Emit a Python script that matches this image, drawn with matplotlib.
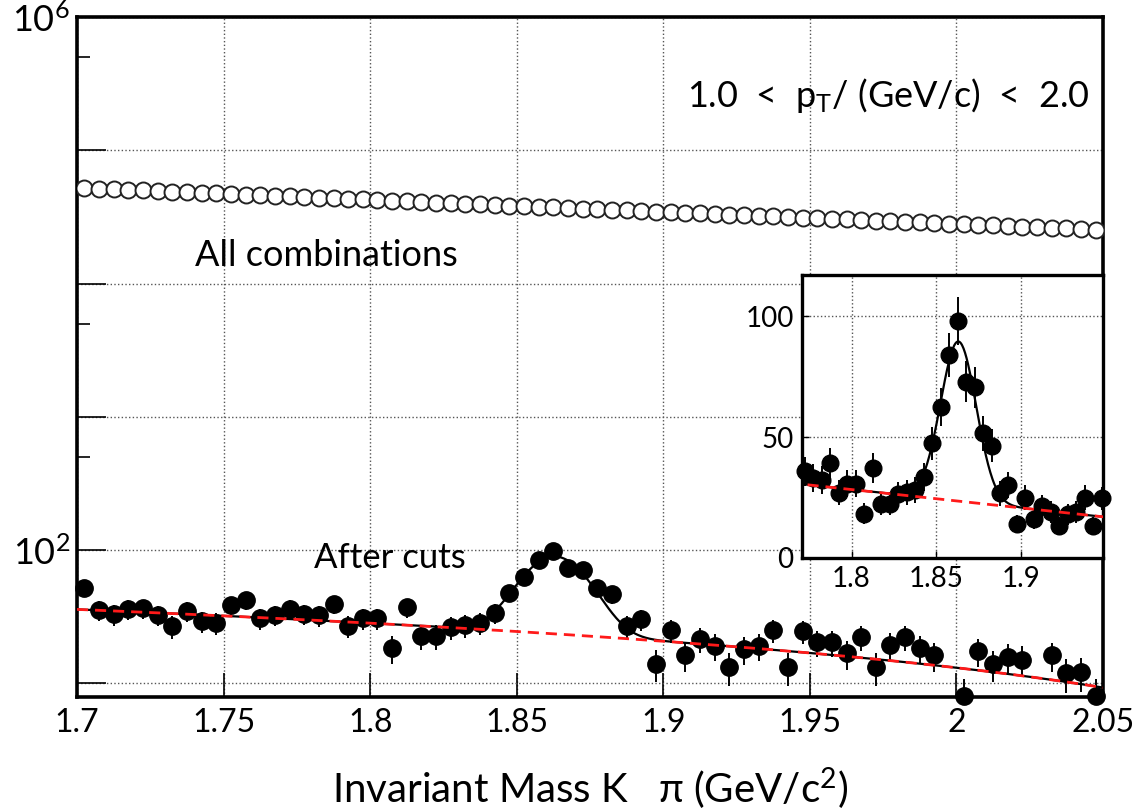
import numpy as np
import matplotlib
matplotlib.use('Agg')
import matplotlib.pyplot as plt
from matplotlib.ticker import LogLocator, FixedLocator, NullFormatter, FuncFormatter

plt.rcParams['font.family'] = ['Lato', 'DejaVu Sans']
plt.rcParams['mathtext.fontset'] = 'custom'
plt.rcParams['mathtext.rm'] = 'Lato'
plt.rcParams['mathtext.it'] = 'Lato:italic'

# 5 MeV bins from 1.70 to 2.05 GeV/c^2
bin_lo = 1.70
bin_width = 0.005
n_bins = 70

# all K pi combinations (open circles)
all_comb = [52100, 51560, 51020, 50490, 49970, 49450, 48940, 48430, 47930, 47430,
            46940, 46450, 45970, 45490, 45020, 44550, 44090, 43630, 43180, 42730,
            42290, 41850, 41410, 40980, 40560, 40140, 39720, 39310, 38900, 38500,
            38100, 37700, 37310, 36920, 36540, 36160, 35790, 35420, 35050, 34690,
            34330, 33970, 33620, 33270, 32920, 32580, 32240, 31910, 31580, 31250,
            30930, 30610, 30290, 29970, 29660, 29350, 29050, 28750, 28450, 28150,
            27860, 27570, 27280, 27000, 26720, 26440, 26170, 25900, 25630, 25100]

# after cuts (filled circles)
after_cuts = [51.6, 35.3, 32.9, 35.9, 36.5, 32.4, 26.8, 34.7, 29.2, 28.2,
              38.5, 42.0, 30.7, 32.4, 35.9, 33.0, 32.3, 39.2, 27.0, 30.7,
              30.7, 18.3, 37.2, 22.5, 22.5, 26.3, 27.2, 28.2, 33.5, 47.4,
              62.4, 83.8, 97.9, 72.9, 70.5, 51.6, 46.5, 26.8, 30.2, 14.0,
              25.0, 16.2, 21.4, 19.0, 13.2, 18.0, 19.0, 25.0, 13.2, 24.6,
              20.3, 20.3, 16.8, 22.1, 13.2, 19.3, 22.1, 18.3, 16.2, np.nan,
              8.0, 17.4, 13.9, 15.9, 15.1, np.nan, 16.2, 11.9, 12.1, 8.0]

# fit: linear background + gaussian
bg_at_lo = 35.9
bg_slope = -76.0
peak_amp = 66.0
peak_mean = 1.863
peak_sigma = 0.0105

mass = bin_lo + bin_width * (np.arange(n_bins) + 0.5)
all_comb = np.array(all_comb, dtype=float)
after_cuts = np.array(after_cuts, dtype=float)
err = np.sqrt(after_cuts)

m_fine = np.linspace(1.7, 2.05, 800)
fit_bg = bg_at_lo + bg_slope * (m_fine - bin_lo)
fit_tot = fit_bg + peak_amp * np.exp(-0.5 * ((m_fine - peak_mean) / peak_sigma) ** 2)

fig = plt.figure(figsize=(11.37, 8.11), dpi=100)
ax = fig.add_axes([77 / 1137, 1 - 697 / 811, 1026 / 1137, 680 / 811])

ax.set_yscale('log')
ax.set_xlim(1.7, 2.05)
ax.set_ylim(7.9, 1e6)

ax.plot(mass, all_comb, 'o', mfc='white', mec='#222222', ms=11.5, mew=1.4, zorder=3)
ax.errorbar(mass, after_cuts, yerr=err, fmt='none', ecolor='k', elinewidth=1.4, zorder=3)
ax.plot(mass, after_cuts, 'o', color='k', ms=12.5, clip_on=False, zorder=4)
ax.plot(m_fine, fit_tot, '-', color='k', lw=1.6, zorder=5)
ax.plot(m_fine, fit_bg, '--', color='#ff1a1a', lw=2.0, dashes=(4, 2.5), zorder=6)

ax.set_xticks(np.arange(1.7, 2.051, 0.05))
ax.set_xticklabels(['1.7', '1.75', '1.8', '1.85', '1.9', '1.95', '2', '2.05'])
ax.yaxis.set_major_locator(LogLocator(base=10, numticks=10))
ax.yaxis.set_minor_locator(FixedLocator([5e5, 5e4, 5e3, 5e2, 5e1]))
ax.yaxis.set_minor_formatter(NullFormatter())
ax.yaxis.set_major_formatter(FuncFormatter(
    lambda v, p: r'$10^{%d}$' % round(np.log10(v)) if round(np.log10(v)) in (2, 6) else ''))

ax.tick_params(axis='x', which='major', direction='in', length=17, width=1.2,
               labelsize=23, pad=8)
ax.tick_params(axis='y', which='major', direction='in', length=21, width=1.2,
               labelsize=26, pad=5)
ax.tick_params(axis='y', which='minor', direction='in', length=9, width=1.2)
for s in ax.spines.values():
    s.set_linewidth(2.6)
ax.grid(True, which='major', ls=':', color='#555555', lw=1.0)

ax.set_xlabel('Invariant Mass K   π (GeV/c$^{2}$)', fontsize=29, labelpad=20)

ax.text(0.987, 0.885, r'1.0  <  p$_{\mathregular{T}}$/ (GeV/c)  <  2.0', transform=ax.transAxes,
        ha='right', va='center', fontsize=26)
ax.text(0.115, 0.65, 'All combinations', transform=ax.transAxes,
        ha='left', va='center', fontsize=26)
ax.text(0.231, 0.204, 'After cuts', transform=ax.transAxes,
        ha='left', va='center', fontsize=25)

# inset, linear scale around the peak
axin = fig.add_axes([802 / 1137, 1 - 558 / 811, 301 / 1137, 283 / 811])
axin.set_facecolor('white')
axin.set_xlim(1.7708, 1.9482)
axin.set_ylim(0, 117)
sel = (mass > 1.7708) & (mass < 1.9482)
axin.errorbar(mass[sel], after_cuts[sel], yerr=err[sel], fmt='none', ecolor='k',
              elinewidth=1.4, zorder=3)
axin.plot(mass[sel], after_cuts[sel], 'o', color='k', ms=12, clip_on=False, zorder=4)
axin.plot(m_fine, fit_tot, '-', color='k', lw=1.6, zorder=5)
axin.plot(m_fine, fit_bg, '--', color='#ff1a1a', lw=2.0, dashes=(4, 2.5), zorder=6)
axin.set_xticks([1.8, 1.85, 1.9])
axin.set_xticklabels(['1.8', '1.85', '1.9'])
axin.set_yticks([0, 50, 100])
axin.tick_params(direction='in', length=5, width=1.0, labelsize=20, pad=6)
for s in axin.spines.values():
    s.set_linewidth(2.4)
axin.grid(True, ls=':', color='#555555', lw=1.0)

fig.savefig('out.png', dpi=100)
